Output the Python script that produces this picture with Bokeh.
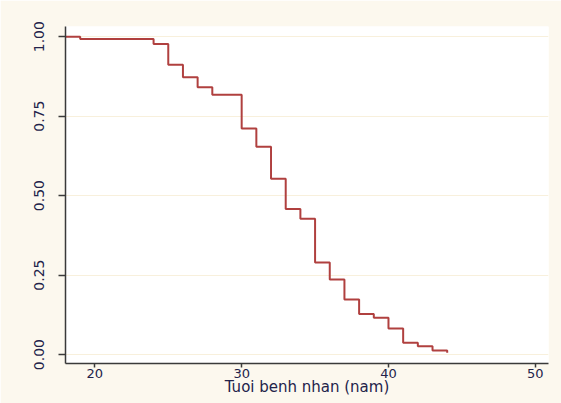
from bokeh.plotting import figure
from bokeh.models import FixedTicker, NumeralTickFormatter, Range1d
from bokeh.embed import file_html
from bokeh.resources import INLINE

# Kaplan-Meier survival estimates
ages = [18, 19, 24, 25, 26, 27, 28, 30, 31, 32, 33, 34, 35, 36, 37, 38, 39, 40, 41, 42, 43, 44]
surv = [1.00, 0.993, 0.977, 0.912, 0.872, 0.841, 0.817, 0.711, 0.654, 0.553, 0.458, 0.427,
        0.290, 0.236, 0.173, 0.128, 0.116, 0.082, 0.037, 0.026, 0.013, 0.006]
x_ticks = [20, 30, 40, 50]
y_ticks = [0.0, 0.25, 0.5, 0.75, 1.0]
x_title = "Tuoi benh nhan (nam)"

CREAM = "#FCF8EE"
TEXT = "#23234a"

p = figure(width=561, height=403, output_backend="svg", toolbar_location=None,
           x_range=Range1d(18.0, 50.9), y_range=Range1d(-0.028, 1.032),
           min_border_left=65, min_border_right=13, min_border_top=26, min_border_bottom=40,
           background_fill_color="white", border_fill_color=CREAM)
p.outline_line_color = None

p.step(ages, surv, mode="after", line_color="#B0403F", line_width=2)

p.xgrid.visible = False
p.ygrid.ticker = FixedTicker(ticks=y_ticks)
p.ygrid.grid_line_color = "#F8F0DC"
p.ygrid.grid_line_width = 1

for ax in (p.xaxis[0], p.yaxis[0]):
    ax.axis_line_color = "#3a3a3a"
    ax.axis_line_width = 1.5
    ax.major_tick_line_color = "#3a3a3a"
    ax.major_tick_line_width = 1.5
    ax.minor_tick_line_color = None
    ax.major_label_text_color = TEXT
    ax.major_label_text_font = "DejaVu Sans"

p.xaxis.ticker = FixedTicker(ticks=x_ticks)
p.xaxis.major_tick_out = 4
p.xaxis.major_tick_in = 0
p.xaxis.major_label_text_font_size = "13px"
p.xaxis.major_label_standoff = 1
p.xaxis.axis_label = x_title
p.xaxis.axis_label_text_font = "DejaVu Sans"
p.xaxis.axis_label_text_font_size = "15px"
p.xaxis.axis_label_text_font_style = "normal"
p.xaxis.axis_label_text_color = TEXT
p.xaxis.axis_label_standoff = -3

p.yaxis.ticker = FixedTicker(ticks=y_ticks)
p.yaxis.formatter = NumeralTickFormatter(format="0.00")
p.yaxis.major_tick_out = 7
p.yaxis.major_tick_in = 0
p.yaxis.major_label_orientation = "parallel"
p.yaxis.major_label_text_font_size = "14px"
p.yaxis.major_label_standoff = 14

open("out.html", "w").write(file_html(p, INLINE))
